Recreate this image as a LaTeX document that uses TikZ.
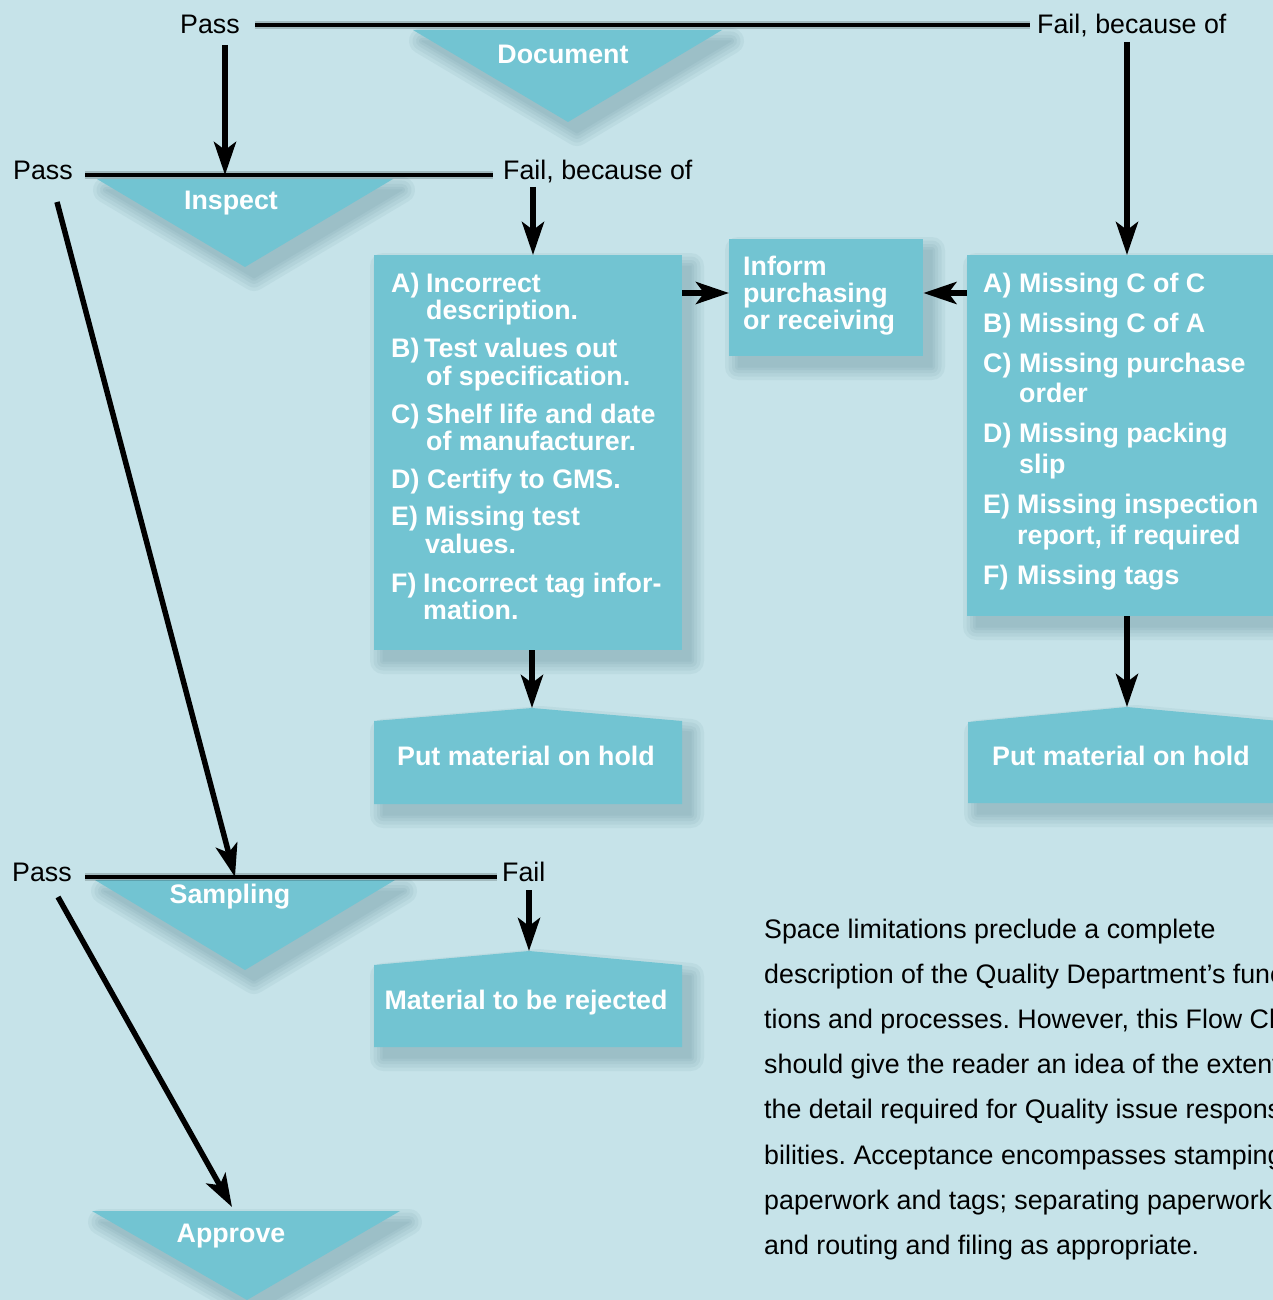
\documentclass[tikz,border=0pt]{standalone}
\usepackage{fontspec}
\setmainfont{Liberation Sans}
\usetikzlibrary{arrows.meta}
\frenchspacing

\definecolor{bgc}{HTML}{C6E3E9}
\definecolor{boxc}{HTML}{72C4D2}
\definecolor{shadowc}{HTML}{4F7F8A}

\tikzset{
  lbl/.style={inner sep=0pt, font=\fontsize{26.8}{30}\selectfont, text=black},
  boxlbl/.style={inner sep=0pt, font=\fontsize{26.8}{30}\selectfont\bfseries, text=white},
  box/.style={fill=boxc, draw=none, inner sep=0pt},
  rule/.style={line width=4.5pt, black},
  rulehalo/.style={line width=8pt, black, opacity=0.18},
  flow/.style={line width=5.5pt, black, -{Stealth[length=33pt,width=22pt,inset=8pt]}},
  shadowlayer/.style={fill=shadowc, draw=shadowc, line join=round, shift={(9,11)}},
}

% soft drop shadow: several widened copies, each one flattened into a group
\newcommand\softshadow[1]{%
  \foreach \w in {26,19,12,6,1}{%
    \begin{scope}[transparency group, opacity=0.08]
      \path[shadowlayer, line width=\w pt] #1;
    \end{scope}}}

\begin{document}
\begin{tikzpicture}[x=1pt, y=-1pt]
\clip (0,0) rectangle (1273,1300);
\fill[bgc] (0,0) rectangle (1273,1300);

% ---------- shadows ----------
\softshadow{(413,30) -- (722,30) -- (568,122) -- cycle}
\softshadow{(97,179) -- (393,179) -- (245,267) -- cycle}
\softshadow{(95,880) -- (395,880) -- (245,970) -- cycle}
\softshadow{(92,1211) -- (400,1211) -- (247,1300) -- cycle}
\softshadow{(374,255) rectangle (682,650)}
\softshadow{(729,239) rectangle (923,356)}
\softshadow{(967,255) rectangle (1300,616)}
\softshadow{(374,721) -- (532,708) -- (682,721) -- (682,804) -- (374,804) -- cycle}
\softshadow{(968,722) -- (1127,707) -- (1290,722) -- (1290,803) -- (968,803) -- cycle}
\softshadow{(374,965) -- (529,951) -- (682,965) -- (682,1047) -- (374,1047) -- cycle}

% ---------- decision triangles ----------
\fill[boxc] (413,30) -- (722,30) -- (568,122) -- cycle;
\node[boxlbl, anchor=base] (doc) at (563,64) {Document};
\fill[boxc] (97,179) -- (393,179) -- (245,267) -- cycle;
\node[boxlbl, anchor=base] (insp) at (231,209) {Inspect};
\fill[boxc] (95,880) -- (395,880) -- (245,970) -- cycle;
\node[boxlbl, anchor=base] (samp) at (230,903) {Sampling};
\fill[boxc] (92,1211) -- (400,1211) -- (247,1300) -- cycle;
\node[boxlbl, anchor=base] (appr) at (231,1242) {Approve};

% ---------- decision rules with outcomes ----------
\node[lbl, anchor=base east] (passA) at (240,34) {Pass};
\node[lbl, anchor=base west] (failA) at (1037,34) {Fail, because of};
\coordinate (ruleAl) at (255,25);
\coordinate (ruleAr) at (1030,25);
\draw[rulehalo] (ruleAl) -- (ruleAr);
\draw[rule] (ruleAl) -- (ruleAr);

\node[lbl, anchor=base west] (passB) at (13,180) {Pass};
\node[lbl, anchor=base west] (failB) at (503,180) {Fail, because of};
\coordinate (ruleBl) at (85,175);
\coordinate (ruleBr) at (493,175);
\draw[rulehalo] (ruleBl) -- (ruleBr);
\draw[rule] (ruleBl) -- (ruleBr);

\node[lbl, anchor=base west] (passC) at (12,881) {Pass};
\node[lbl, anchor=base west] (failC) at (502,881) {Fail};
\coordinate (ruleCl) at (85,877);
\coordinate (ruleCr) at (497,877);
\draw[rulehalo] (ruleCl) -- (ruleCr);
\draw[rule] (ruleCl) -- (ruleCr);

% ---------- rectangular boxes ----------
\node[box, minimum width=308pt, minimum height=395pt, anchor=north west] (crit) at (374,255) {};
\node[box, minimum width=194pt, minimum height=117pt, anchor=north west] (inform) at (729,239) {};
\node[box, minimum width=333pt, minimum height=361pt, anchor=north west] (docs) at (967,255) {};

\fill[boxc] (374,721) -- (532,708) -- (682,721) -- (682,804) -- (374,804) -- cycle;
\coordinate (holdLtop) at (532,708);
\node[boxlbl, anchor=base] (holdL) at (526,765) {Put material on hold};

\fill[boxc] (968,722) -- (1127,707) -- (1290,722) -- (1290,803) -- (968,803) -- cycle;
\coordinate (holdRtop) at (1127,707);
\node[boxlbl, anchor=base] (holdR) at (1121,765) {Put material on hold};

\fill[boxc] (374,965) -- (529,951) -- (682,965) -- (682,1047) -- (374,1047) -- cycle;
\coordinate (rejtop) at (529,951);
\node[boxlbl, anchor=base] (reject) at (526,1009) {Material to be rejected};

% ---------- box texts ----------
\node[boxlbl, anchor=base west] (inf1) at (743,275) {Inform};
\node[boxlbl, anchor=base west] (inf2) at (743,302) {purchasing};
\node[boxlbl, anchor=base west] (inf3) at (743,329) {or receiving};

\node[boxlbl, anchor=base west] (cA)  at (391,292) {A)};
\node[boxlbl, anchor=base west] (cA1) at (426,292) {Incorrect};
\node[boxlbl, anchor=base west] (cA2) at (426,319) {description.};
\node[boxlbl, anchor=base west] (cB)  at (391,357) {B)};
\node[boxlbl, anchor=base west] (cB1) at (424,357) {Test values out};
\node[boxlbl, anchor=base west] (cB2) at (426,385) {of specification.};
\node[boxlbl, anchor=base west] (cC)  at (391,423) {C)};
\node[boxlbl, anchor=base west] (cC1) at (426,423) {Shelf life and date};
\node[boxlbl, anchor=base west] (cC2) at (426,450) {of manufacturer.};
\node[boxlbl, anchor=base west] (cD)  at (391,488) {D)};
\node[boxlbl, anchor=base west] (cD1) at (427,488) {Certify to GMS.};
\node[boxlbl, anchor=base west] (cE)  at (391,525) {E)};
\node[boxlbl, anchor=base west] (cE1) at (425,525) {Missing test};
\node[boxlbl, anchor=base west] (cE2) at (425,553) {values.};
\node[boxlbl, anchor=base west] (cF)  at (391,592) {F)};
\node[boxlbl, anchor=base west] (cF1) at (423,592) {Incorrect tag infor-};
\node[boxlbl, anchor=base west] (cF2) at (423,619) {mation.};

\node[boxlbl, anchor=base west] (dA)  at (983,292) {A)};
\node[boxlbl, anchor=base west] (dA1) at (1019,292) {Missing C of C};
\node[boxlbl, anchor=base west] (dB)  at (983,332) {B)};
\node[boxlbl, anchor=base west] (dB1) at (1019,332) {Missing C of A};
\node[boxlbl, anchor=base west] (dC)  at (983,372) {C)};
\node[boxlbl, anchor=base west] (dC1) at (1019,372) {Missing purchase};
\node[boxlbl, anchor=base west] (dC2) at (1019,402) {order};
\node[boxlbl, anchor=base west] (dD)  at (983,442) {D)};
\node[boxlbl, anchor=base west] (dD1) at (1019,442) {Missing packing};
\node[boxlbl, anchor=base west] (dD2) at (1019,473) {slip};
\node[boxlbl, anchor=base west] (dE)  at (983,513) {E)};
\node[boxlbl, anchor=base west] (dE1) at (1017,513) {Missing inspection};
\node[boxlbl, anchor=base west] (dE2) at (1017,544) {report, if required};
\node[boxlbl, anchor=base west] (dF)  at (983,584) {F)};
\node[boxlbl, anchor=base west] (dF1) at (1017,584) {Missing tags};

% ---------- connectors ----------
\coordinate (yinf) at (0,293);
\coordinate (pAs) at (225,45);
\coordinate (fAs) at (1127,42);
\coordinate (fBs) at (533,187);
\coordinate (pBs) at (57,202);
\coordinate (sampIn) at (235,877);
\coordinate (fCs) at (529,890);
\coordinate (pCs) at (58,897);
\coordinate (apprIn) at (232,1207);

\draw[flow] (pAs) -- (pAs |- ruleBl);
\draw[flow] (fAs) -- (fAs |- docs.north);
\draw[flow] (fBs) -- (fBs |- crit.north);
\draw[flow] (crit.east |- yinf) -- (inform.west |- yinf);
\draw[flow] (docs.west |- yinf) -- (inform.east |- yinf);
\draw[flow] (holdLtop |- crit.south) -- (holdLtop);
\draw[flow] (holdRtop |- docs.south) -- (holdRtop);
\draw[flow] (pBs) -- (sampIn);
\draw[flow] (fCs) -- (rejtop);
\draw[flow] (pCs) -- (apprIn);

% ---------- explanatory note ----------
\foreach \t [count=\i from 0] in {%
  {Space limitations preclude a complete},
  {description of the Quality Department’s func-},
  {tions and processes. However, this Flow Chart},
  {should give the reader an idea of the extent of},
  {the detail required for Quality issue responsi-},
  {bilities. Acceptance encompasses stamping},
  {paperwork and tags; separating paperwork},
  {and routing and filing as appropriate.}}{%
  \node[lbl, anchor=base west] (note\i) at (764,938+45.2*\i) {\t};
}
\end{tikzpicture}
\end{document}
